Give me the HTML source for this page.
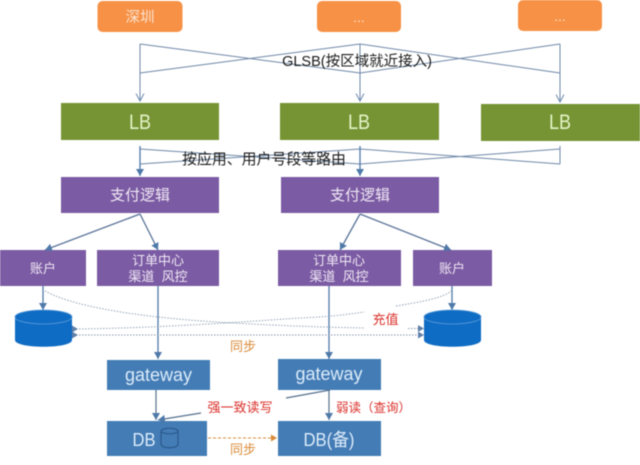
<!DOCTYPE html>
<html>
<head>
<meta charset="utf-8">
<style>
html,body{margin:0;padding:0;background:#fff;width:640px;height:465px;overflow:hidden}
svg{display:block;filter:blur(.4px)}
text{font-family:"Liberation Sans","Noto Sans CJK SC",sans-serif;text-anchor:middle}
.w{fill:#f0e8f5}
</style>
</head>
<body>
<svg width="640" height="465" viewBox="0 0 640 465" xmlns="http://www.w3.org/2000/svg">
<defs>
<marker id="a" markerWidth="9" markerHeight="9" refX="7" refY="4" orient="auto" markerUnits="userSpaceOnUse"><path d="M0,0 L7,4 L0,8 Z" fill="#4f79a8"/></marker>
<marker id="o" markerWidth="9" markerHeight="10" refX="7.5" refY="4.5" orient="auto" markerUnits="userSpaceOnUse"><path d="M0,0.5 L7.5,4.5 L0,8.5" fill="none" stroke="#6d8bb0" stroke-width="1"/></marker>
<marker id="b" markerWidth="7" markerHeight="8" refX="6" refY="3.5" orient="auto" markerUnits="userSpaceOnUse"><path d="M0,0 L6,3.5 L0,7 Z" fill="#d98b3a"/></marker>
</defs>

<!-- orange -->
<rect x="97.5" y="1" width="85" height="31" rx="5" fill="#f79146"/>
<rect x="317" y="1" width="84" height="31" rx="5" fill="#f79146"/>
<rect x="518" y="0" width="84" height="31" rx="5" fill="#f79146"/>
<text x="140" y="22" font-size="14.5" fill="#fbe3cf">深圳</text>
<text x="359" y="22" font-size="14" fill="#fbe3cf">...</text>
<text x="560" y="21" font-size="14" fill="#fbe3cf">...</text>

<!-- GLSB crossing lines -->
<g fill="none" stroke="#6f88a8" stroke-width="1">
<path d="M140,44 L360,73 M140,73 L360,44 M360,44 L560,73 M360,73 L560,44"/>
<path d="M140,44 V101" marker-end="url(#o)"/>
<path d="M360,44 V101" marker-end="url(#o)"/>
<path d="M560,44 V102" marker-end="url(#o)"/>
</g>
<text x="357" y="66" font-size="14.5" fill="#1a1a1a">GLSB(按区域就近接入)</text>

<!-- LB -->
<rect x="61" y="103" width="158" height="37" fill="#769434"/>
<rect x="280" y="103" width="159" height="37" fill="#769434"/>
<rect x="481" y="104" width="159" height="37" fill="#769434"/>
<g font-size="21" fill="#e4f3c8">
<text x="140" y="129" textLength="22" lengthAdjust="spacingAndGlyphs">LB</text>
<text x="359" y="129" textLength="22" lengthAdjust="spacingAndGlyphs">LB</text>
<text x="560" y="129" textLength="22" lengthAdjust="spacingAndGlyphs">LB</text>
</g>

<!-- route crossing lines -->
<g fill="none" stroke="#6f88a8" stroke-width="1">
<path d="M140,149 L360,164 M140,164 L360,149 M360,149 L560,164 M360,164 L560,149 M560,146 V164"/>
</g>
<g fill="none" stroke="#4f79a8" stroke-width="1.3">
<path d="M140,146 V176" marker-end="url(#a)"/>
<path d="M360,146 V176" marker-end="url(#a)"/>
</g>
<text x="264" y="164" font-size="14.900" fill="#1a1a1a">按应用、用户号段等路由</text>

<!-- purple -->
<rect x="61" y="177" width="158" height="36" fill="#7b5ba3"/>
<rect x="281" y="177" width="158" height="36" fill="#7b5ba3"/>
<text x="140" y="200" font-size="15" class="w">支付逻辑</text>
<text x="360" y="200" font-size="15" class="w">支付逻辑</text>

<rect x="0" y="250" width="86" height="36" fill="#7b5ba3"/>
<rect x="97" y="250" width="122" height="36" fill="#7b5ba3"/>
<rect x="278" y="250" width="123" height="36" fill="#7b5ba3"/>
<rect x="413" y="250" width="79" height="36" fill="#7b5ba3"/>
<g font-size="13" class="w">
<text x="43" y="273">账户</text>
<text x="158" y="265">订单中心</text>
<text x="158" y="281">渠道&#160;&#160;风控</text>
<text x="339" y="265">订单中心</text>
<text x="339" y="281">渠道&#160;&#160;风控</text>
<text x="452" y="273">账户</text>
</g>

<!-- arrows -->
<g fill="none" stroke="#5a7399" stroke-width="1.3">
<path d="M140,214 L45,250" marker-end="url(#a)"/>
<path d="M140,214 L158,250" marker-end="url(#a)"/>
<path d="M360,214 L340,250" marker-end="url(#a)"/>
<path d="M360,214 L451,250" marker-end="url(#a)"/>
<path d="M43,286 V310" stroke="#4f79a8" marker-end="url(#a)"/>
<path d="M158,286 V359" stroke="#4f79a8" marker-end="url(#a)"/>
<path d="M329,286 V359" stroke="#4f79a8" marker-end="url(#a)"/>
<path d="M452,286 V310" stroke="#4f79a8" marker-end="url(#a)"/>
</g>

<!-- dotted links -->
<g fill="none" stroke="#8a9bb0" stroke-width=".9" stroke-dasharray="1.500 1.500">
<path d="M45,291 C80,310 160,319 233,323 C270,325 310,327 365,328"/>
<path d="M76,329 C160,328 240,322 300,318 C325,317 345,315 364,312"/>
<path d="M396,306 C420,302 445,298 452,290"/>
<path d="M408,328.500 H418"/>
<path d="M76,335 H418"/>
</g>
<path d="M78,329 L72,325.500 V332.500 Z M78,335 L72,331.500 V338.500 Z" fill="#5f80a8"/>
<path d="M418,325 L424,328.500 L418,332 Z M418,331.500 L424,335 L418,338.500 Z" fill="#5f80a8"/>

<!-- cylinders -->
<g>
<path d="M15,317 V340 C15,349 72,349 72,340 V317 Z" fill="#0f6cc4"/>
<ellipse cx="43.500" cy="317" rx="28.500" ry="7" fill="#0f6cc4" stroke="#5a9bd8" stroke-width=".8"/>
<path d="M424,317 V340 C424,349 481,349 481,340 V317 Z" fill="#0f6cc4"/>
<ellipse cx="452.500" cy="317" rx="28.500" ry="7" fill="#0f6cc4" stroke="#5a9bd8" stroke-width=".8"/>
</g>

<text x="385.500" y="324" font-size="13" fill="#d9302a">充值</text>
<text x="243" y="351" font-size="13" fill="#d98b3a">同步</text>

<!-- gateway -->
<rect x="107" y="360" width="103" height="30" fill="#447cb6"/>
<rect x="278" y="359" width="103" height="31" fill="#447cb6"/>
<text x="158.500" y="381" font-size="18" fill="#dcecf9" textLength="67" lengthAdjust="spacingAndGlyphs">gateway</text>
<text x="329" y="380" font-size="18" fill="#dcecf9" textLength="67" lengthAdjust="spacingAndGlyphs">gateway</text>

<!-- DB -->
<rect x="107" y="421" width="100" height="35" fill="#447cb6"/>
<rect x="278" y="421" width="103" height="35" fill="#447cb6"/>
<text x="144" y="446" font-size="18" fill="#dcecf9" textLength="23" lengthAdjust="spacingAndGlyphs">DB</text>
<text x="329" y="446" font-size="18" fill="#dcecf9" textLength="51" lengthAdjust="spacingAndGlyphs">DB(备)</text>
<g fill="none" stroke="#2a5a8c" stroke-width="1.200">
<path d="M161,431 V444 C161,449 178,449 178,444 V431"/>
<ellipse cx="169.500" cy="431" rx="8.500" ry="2.800"/>
</g>

<g fill="none" stroke="#55708f" stroke-width="1.200">
<path d="M156,390 V420" marker-end="url(#a)"/>
<path d="M329,390 V420" marker-end="url(#a)"/>
<path d="M201,413 L158,420" marker-end="url(#a)"/>
<path d="M286,398 L330,390"/>
</g>
<path d="M208,438 H277" fill="none" stroke="#d98b3a" stroke-width="1" stroke-dasharray="3 2" marker-end="url(#b)"/>

<text x="240" y="412" font-size="13" fill="#d9302a">强一致读写</text>
<text x="373.500" y="412" font-size="12.500" fill="#d9302a">弱读（查询）</text>
<text x="243" y="454" font-size="13" fill="#d98b3a">同步</text>
</svg>
</body>
</html>
